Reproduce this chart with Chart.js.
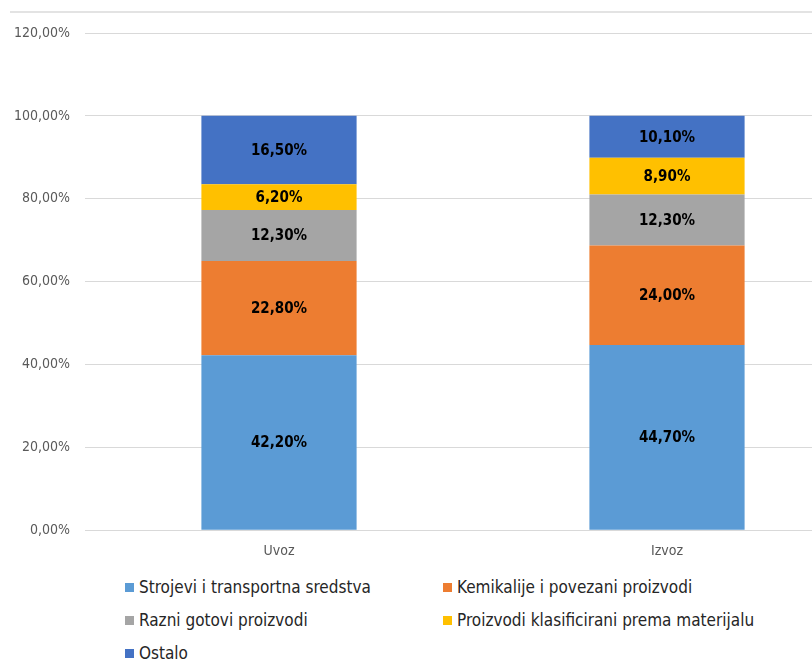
<!DOCTYPE html>
<html>
<head>
<meta charset="utf-8">
<script src="https://cdn.jsdelivr.net/npm/chart.js@4.4.0/dist/chart.umd.min.js"></script>
<style>
  html, body { margin: 0; padding: 0; background: #fff; overflow: hidden; width: 812px; height: 659px; }
  #wrap { position: absolute; left: 0; top: 0; width: 870px; height: 565px; }
  #topline { position: absolute; left: 10px; top: 11px; width: 810px; border-top: 2px solid #e3e3e3; }
  #legend { position: absolute; left: 0; top: 577px; width: 812px; font-family: "DejaVu Sans Condensed", sans-serif; font-size: 17px; color: #262626; }
  .item { position: absolute; height: 20px; line-height: 20px; white-space: nowrap; }
  .box { display: inline-block; width: 9px; height: 9px; margin-right: 5px; vertical-align: 1px; }
</style>
</head>
<body>
<div id="topline"></div>
<div id="wrap"><canvas id="myChart"></canvas></div>
<div id="legend"></div>
<script>
// data
const categories = ['Uvoz', 'Izvoz'];
const seriesNames = ['Strojevi i transportna sredstva', 'Kemikalije i povezani proizvodi', 'Razni gotovi proizvodi', 'Proizvodi klasificirani prema materijalu', 'Ostalo'];
const strojevi = [42.2, 44.7];
const kemikalije = [22.8, 24.0];
const razni = [12.3, 12.3];
const materijal = [6.2, 8.9];
const ostalo = [16.5, 10.1];
const yTicks = [0, 20, 40, 60, 80, 100, 120];
const colors = ['#5B9BD5', '#ED7D31', '#A5A5A5', '#FFC000', '#4472C4'];

const fontFam = '"DejaVu Sans Condensed", sans-serif';
const fmt = v => v.toFixed(2).replace('.', ',') + '%';

// labels in the middle of every segment
const segmentLabels = {
  id: 'segmentLabels',
  afterDatasetsDraw(chart) {
    const ctx = chart.ctx;
    ctx.save();
    ctx.font = 'bold 15px ' + fontFam;
    ctx.fillStyle = '#000';
    ctx.textAlign = 'center';
    ctx.textBaseline = 'middle';
    chart.data.datasets.forEach((ds, i) => {
      chart.getDatasetMeta(i).data.forEach((bar, j) => {
        const mid = (bar.y + bar.base) / 2;
        ctx.fillText(fmt(ds.data[j]), bar.x, mid + 1);
      });
    });
    ctx.restore();
  }
};

const allSeries = [strojevi, kemikalije, razni, materijal, ostalo];

var ctx = document.getElementById('myChart').getContext('2d');
var chart = new Chart(ctx, {
  type: 'bar',
  plugins: [segmentLabels],
  data: {
    labels: categories,
    datasets: allSeries.map((d, i) => ({
      label: seriesNames[i],
      data: d,
      backgroundColor: colors[i],
      borderWidth: 0,
      barPercentage: 0.4,
      categoryPercentage: 1
    }))
  },
  options: {
    responsive: true,
    maintainAspectRatio: false,
    animation: false,
    layout: { padding: { left: 10, right: 9, top: 33, bottom: 0 } },
    plugins: { legend: { display: false }, tooltip: { enabled: false } },
    scales: {
      x: {
        stacked: true,
        grid: { display: false },
        border: { display: false },
        ticks: { color: '#595959', font: { family: fontFam, size: 14 }, padding: 5 }
      },
      y: {
        stacked: true,
        min: 0,
        max: 120,
        afterBuildTicks: s => { s.ticks = yTicks.map(v => ({ value: v })); },
        afterFit: s => { s.width = 75; },
        grid: { color: '#d9d9d9', lineWidth: 1, drawTicks: false },
        border: { display: false },
        ticks: { color: '#595959', font: { family: fontFam, size: 14 }, padding: 15, callback: v => fmt(v) }
      }
    }
  }
});

// legend in two columns, like the original
const pos = [[125, 0], [443, 0], [125, 33], [443, 33], [125, 66]];
const legend = document.getElementById('legend');
seriesNames.forEach((name, i) => {
  const el = document.createElement('div');
  el.className = 'item';
  el.style.left = pos[i][0] + 'px';
  el.style.top = pos[i][1] + 'px';
  el.innerHTML = '<span class="box" style="background:' + colors[i] + '"></span>' + name;
  legend.appendChild(el);
});
</script>
</body>
</html>
